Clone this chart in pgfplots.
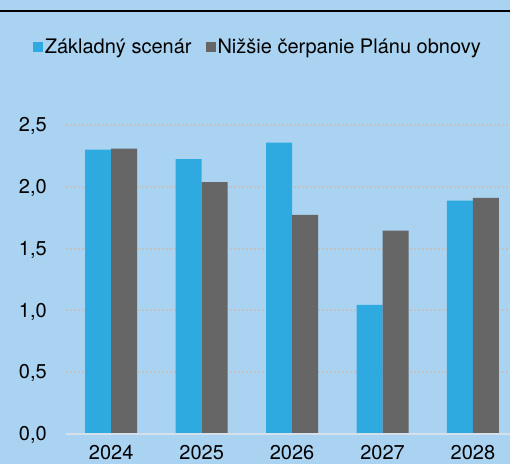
\documentclass[border=0pt]{standalone}
\usepackage{fontspec}
\setmainfont{TeX Gyre Heros}
\usepackage{pgfplots}
\pgfplotsset{compat=1.18}
\definecolor{bg}{RGB}{170,211,241}
\definecolor{cblue}{RGB}{46,170,224}
\definecolor{cgray}{RGB}{102,102,102}
\definecolor{cgrid}{RGB}{196,194,192}
\definecolor{caxis}{RGB}{214,224,234}
\begin{document}
\begin{tikzpicture}[x=1pt,y=1pt]
\fill[bg] (0,0) rectangle (510,-464);
\useasboundingbox (0,0) rectangle (510,-464);
\draw[black,line width=2.2pt] (0,-11) -- (510,-11);
\begin{axis}[
  at={(66pt,-434pt)}, anchor=south west,
  scale only axis, width=444pt, height=309pt,
  ybar=0pt, bar width=26pt,
  xmin=-0.5, xmax=4.41, ymin=0, ymax=2.5,
  xtick={0,1,2,3,4}, xticklabels={2024,2025,2026,2027,2028},
  ytick={0,0.5,1,1.5,2,2.5},
  axis line style={draw=none},
  axis x line*=bottom, axis y line*=left,
  major tick length=0pt,
  ymajorgrids, major grid style={cgrid, line width=2pt, dash pattern=on 2pt off 2pt},
  /pgf/number format/.cd, use comma, fixed, fixed zerofill, precision=1, assume math mode=true,
  /pgfplots/.cd,
  yticklabel style={anchor=east, inner sep=0pt, xshift=-19pt, yshift=-1pt, font=\fontsize{20}{24}\selectfont},
  xticklabel style={anchor=north, inner sep=0pt, yshift=-11pt, font=\fontsize{20}{24}\selectfont},
  clip=false,
  legend columns=2,
  legend style={at={(axis description cs:0.432,1.252)}, anchor=center, draw=none, fill=none,
    font=\fontsize{20}{24}\selectfont, inner sep=0pt,
    /tikz/every even column/.append style={column sep=12pt}},
  legend image code/.code={\fill[#1] (0pt,-5pt) rectangle (10pt,5pt);},
]
\addplot[fill=cblue, draw=none] coordinates {(0,2.30) (1,2.224) (2,2.357) (3,1.044) (4,1.889)};
\addplot[fill=cgray, draw=none] coordinates {(0,2.308) (1,2.038) (2,1.773) (3,1.646) (4,1.911)};
\legend{Základný scenár, Nižšie čerpanie Plánu obnovy}
\draw[caxis, line width=2pt] (axis cs:-0.5,0) -- (axis cs:4.41,0);
\end{axis}
\end{tikzpicture}
\end{document}
